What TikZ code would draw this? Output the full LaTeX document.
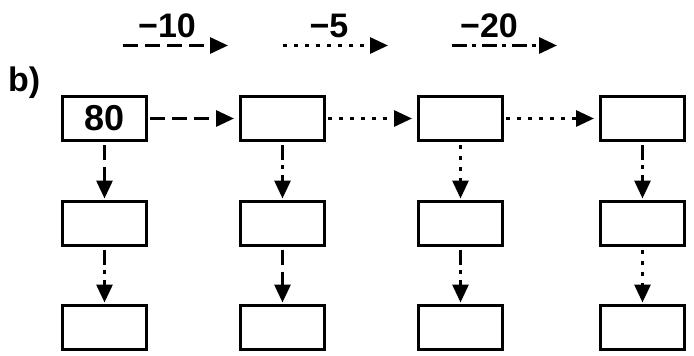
\documentclass[tikz,border=0pt]{standalone}
\usepackage{fontspec}
\setmainfont{Liberation Sans}
\usetikzlibrary{arrows.meta}
\begin{document}
\begin{tikzpicture}[x=1pt,y=-1pt,
  box/.style={draw, line width=3pt, minimum width=84pt, minimum height=44pt, inner sep=0pt, font=\fontsize{36}{36}\selectfont\bfseries},
  conn/.style={line width=3pt, -{Triangle[length=18pt,width=16pt]}},
  ldash/.style={conn, dash pattern=on 15pt off 7pt},
  ldot/.style={conn, dash pattern=on 4pt off 7pt},
  ldashdot/.style={conn, dash pattern=on 15pt off 5pt on 4pt off 6pt},
  hconn/.style={shorten <=2pt, shorten >=5pt},
  vconn/.style={shorten <=3pt, shorten >=1pt},
  lbl/.style={font=\fontsize{34}{34}\selectfont\bfseries, inner sep=0pt}
]
\useasboundingbox (0,0) rectangle (694,356);
% legend
\node[lbl] (t1) at (167,26) {−10};
\node[lbl] (t2) at (329,26) {−5};
\node[lbl] (t3) at (489,26) {−20};
\coordinate (a1s) at (123,45.5); \coordinate (a1e) at (228,45.5);
\coordinate (a2s) at (283,45.5); \coordinate (a2e) at (388,45.5);
\coordinate (a3s) at (452,45.5); \coordinate (a3e) at (557,45.5);
\draw[ldash] (a1s) -- (a1e);
\draw[ldot] (a2s) -- (a2e);
\draw[ldashdot] (a3s) -- (a3e);
% label
\node[lbl, anchor=west] (b) at (8,83) {b)};
% boxes
\node[box] (r1c1) at (104.5,118.5) {80};
\node[box] (r1c2) at (282.5,118.5) {};
\node[box] (r1c3) at (460.5,118.5) {};
\node[box] (r1c4) at (642.5,118.5) {};
\node[box] (r2c1) at (104.5,223) {};
\node[box] (r2c2) at (282.5,223) {};
\node[box] (r2c3) at (460.5,223) {};
\node[box] (r2c4) at (642.5,223) {};
\node[box] (r3c1) at (104.5,327) {};
\node[box] (r3c2) at (282.5,327) {};
\node[box] (r3c3) at (460.5,327) {};
\node[box] (r3c4) at (642.5,327) {};
% horizontal connectors
\draw[ldash, hconn] (r1c1) -- (r1c2);
\draw[ldot, hconn] (r1c2) -- (r1c3);
\draw[ldot, hconn] (r1c3) -- (r1c4);
% vertical connectors row 1 -> 2
\draw[ldash, vconn] (r1c1) -- (r2c1);
\draw[ldashdot, vconn] (r1c2) -- (r2c2);
\draw[ldot, vconn] (r1c3) -- (r2c3);
\draw[ldashdot, vconn] (r1c4) -- (r2c4);
% vertical connectors row 2 -> 3
\draw[ldashdot, vconn] (r2c1) -- (r3c1);
\draw[ldash, vconn] (r2c2) -- (r3c2);
\draw[ldashdot, vconn] (r2c3) -- (r3c3);
\draw[ldot, vconn] (r2c4) -- (r3c4);
\end{tikzpicture}
\end{document}
